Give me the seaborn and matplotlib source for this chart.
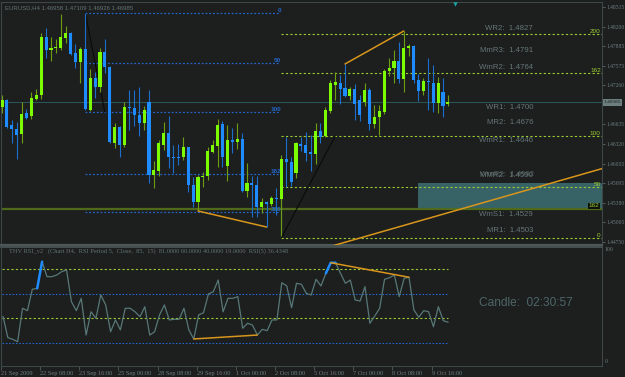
import numpy as np
import pandas as pd
import matplotlib
matplotlib.use("Agg")
import matplotlib.pyplot as plt
import matplotlib.transforms as mtransforms
from matplotlib.patches import Rectangle
import seaborn as sns

# ---------------- data ----------------
opens = [1.46913, 1.47025, 1.46625, 1.46561, 1.46480, 1.46817, 1.46769, 1.47041, 1.47105, 1.48034,
         1.47826, 1.47858, 1.47858, 1.48018, 1.48098, 1.47778, 1.47634, 1.47842, 1.46865, 1.47377,
         1.47233, 1.47794, 1.47554, 1.46336, 1.46593, 1.46304, 1.46913, 1.46897, 1.46785, 1.46657,
         1.46993, 1.45824, 1.45888, 1.46304, 1.46496, 1.46112, 1.46112, 1.46112, 1.46272, 1.45663,
         1.45391, 1.45792, 1.45808, 1.46192, 1.46288, 1.46641, 1.45968, 1.46384, 1.46352, 1.46400,
         1.45567, 1.45695, 1.45663, 1.45311, 1.45391, 1.45359, 1.45455, 1.45439, 1.46080, 1.46032,
         1.45856, 1.46320, 1.46304, 1.46192, 1.46160, 1.46529, 1.46448, 1.46849, 1.47265, 1.47297,
         1.47217, 1.47089, 1.47201, 1.47025, 1.46993, 1.47185, 1.46641, 1.46753, 1.46833, 1.47490,
         1.47538, 1.47650, 1.47361, 1.47858, 1.47890, 1.47345, 1.47169, 1.47329, 1.47297, 1.46977,
         1.47153, 1.46958]
highs = [1.47105, 1.47041, 1.46705, 1.46673, 1.46993, 1.46881, 1.47153, 1.47201, 1.48098, 1.48178,
         1.48034, 1.48002, 1.48403, 1.48210, 1.48114, 1.47922, 1.47874, 1.48419, 1.47522, 1.47474,
         1.47858, 1.48002, 1.47570, 1.46657, 1.46609, 1.46993, 1.47185, 1.47185, 1.47233, 1.46929,
         1.47185, 1.46048, 1.46384, 1.46673, 1.46769, 1.46304, 1.46320, 1.46432, 1.46272, 1.45792,
         1.45824, 1.45872, 1.46272, 1.46384, 1.46721, 1.46689, 1.46625, 1.46577, 1.46657, 1.46496,
         1.46016, 1.45808, 1.45808, 1.45455, 1.45407, 1.45487, 1.45615, 1.46144, 1.46432, 1.46112,
         1.46352, 1.46432, 1.46513, 1.46464, 1.46657, 1.46657, 1.46913, 1.47345, 1.47474, 1.47426,
         1.47602, 1.47233, 1.47281, 1.47105, 1.47297, 1.47217, 1.46945, 1.46945, 1.47522, 1.47698,
         1.47826, 1.47954, 1.48130, 1.47922, 1.47906, 1.47442, 1.47377, 1.47698, 1.47586, 1.47393,
         1.47377, 1.47109]
lows = [1.46817, 1.46577, 1.46336, 1.46080, 1.46336, 1.46721, 1.46721, 1.47025, 1.47041, 1.47698,
        1.47650, 1.47778, 1.47826, 1.47938, 1.47746, 1.47538, 1.47297, 1.46865, 1.46849, 1.47057,
        1.47153, 1.47458, 1.46336, 1.46256, 1.46112, 1.46272, 1.46545, 1.46609, 1.46448, 1.46545,
        1.45695, 1.45615, 1.45808, 1.46224, 1.45936, 1.45856, 1.45984, 1.46064, 1.45551, 1.45311,
        1.45247, 1.45631, 1.45743, 1.46176, 1.45952, 1.45952, 1.45727, 1.46176, 1.46240, 1.45551,
        1.45471, 1.45151, 1.45151, 1.45215, 1.44990, 1.45327, 1.45183, 1.45423, 1.45631, 1.45647,
        1.45775, 1.46208, 1.46048, 1.45888, 1.46000, 1.46336, 1.46432, 1.46817, 1.47025, 1.46961,
        1.47073, 1.47025, 1.46705, 1.46689, 1.46929, 1.46545, 1.46577, 1.46464, 1.46801, 1.47410,
        1.47297, 1.47297, 1.47153, 1.47730, 1.47297, 1.47009, 1.47105, 1.46865, 1.46833, 1.46817,
        1.46753, 1.46926]
closes = [1.47025, 1.46593, 1.46561, 1.46464, 1.46801, 1.46737, 1.47057, 1.47105, 1.48034, 1.47826,
          1.47858, 1.47874, 1.48034, 1.48098, 1.47762, 1.47634, 1.47842, 1.46881, 1.47377, 1.47233,
          1.47794, 1.47554, 1.46352, 1.46593, 1.46304, 1.46913, 1.46897, 1.46785, 1.46657, 1.46865,
          1.45824, 1.45904, 1.46336, 1.46496, 1.46112, 1.46096, 1.46096, 1.46272, 1.45663, 1.45391,
          1.45792, 1.45808, 1.46208, 1.46304, 1.46625, 1.46112, 1.46384, 1.46352, 1.46400, 1.45567,
          1.45695, 1.45663, 1.45311, 1.45391, 1.45359, 1.45455, 1.45439, 1.46080, 1.46032, 1.45711,
          1.46336, 1.46288, 1.46176, 1.46160, 1.46529, 1.46432, 1.46865, 1.47297, 1.47313, 1.47201,
          1.47089, 1.47201, 1.46961, 1.46785, 1.47185, 1.46641, 1.46753, 1.46849, 1.47490, 1.47538,
          1.47650, 1.47361, 1.47858, 1.47890, 1.47345, 1.47169, 1.47329, 1.47313, 1.46977, 1.47297,
          1.46929, 1.46985]
rsi = [41.5, 23.5, 22.1, 20.1, 48.2, 46.2, 64.2, 65.0, 87.4, 74.8,
       74.8, 76.2, 79.0, 80.4, 53.7, 46.2, 56.6, 25.7, 45.3, 39.8,
       59.4, 51.0, 28.5, 38.4, 30.0, 48.2, 48.2, 45.3, 41.1, 49.5,
       25.7, 28.5, 42.6, 51.0, 38.4, 38.9, 38.9, 48.2, 30.0, 22.4,
       42.6, 44.5, 60.2, 62.2, 72.0, 45.3, 56.6, 56.6, 58.0, 31.4,
       35.6, 34.1, 25.7, 30.5, 29.4, 38.4, 38.4, 69.7, 67.0, 48.7,
       69.2, 68.4, 60.8, 59.4, 72.6, 67.0, 77.6, 86.5, 86.5, 77.6,
       69.2, 72.0, 55.2, 54.3, 66.4, 35.6, 41.7, 48.2, 72.6, 73.9,
       76.2, 58.0, 73.4, 74.3, 46.8, 40.6, 46.2, 45.3, 32.7, 49.5,
       37.8, 36.43]

time_labels = ["21 Sep 2009", "22 Sep 08:00", "23 Sep 16:00", "25 Sep 00:00", "28 Sep 08:00",
               "29 Sep 16:00", "1 Oct 00:00", "2 Oct 08:00", "5 Oct 16:00", "7 Oct 00:00",
               "8 Oct 08:00", "9 Oct 16:00"]
price_ticks = [1.48515, 1.48200, 1.47885, 1.47575, 1.47260, 1.46635, 1.46320,
               1.46005, 1.45695, 1.45380, 1.45065, 1.44750]

pivot_names = ["WR2", "MmR3", "WmR2", "WR1", "MR2", "WmR1", "MMR2", "WmS1", "MR1"]
pivot_values = [1.4827, 1.4791, 1.4764, 1.4700, 1.4676, 1.4646, 1.4590, 1.4529, 1.4503]

fib_levels = [0, 50, 100, 161.8, 200]
fib_labels = ["0", "50", "100", "162", "200"]
blue_fib = [(17, 1.48419), (21, 1.46828)]     # (bar, price) of 0 and 100
green_fib = [(57, 1.44814), (68, 1.46448)]
olive_level = 1.45279
zone_top = 1.45689
zone_start_bar = 84.9

orange_price_1 = [(40, 1.45247), (54, 1.44990)]
orange_price_2 = [(70, 1.47602), (82, 1.48130)]
orange_price_3 = [(67, 1.44678), (122.5, 1.45927)]
orange_rsi_1 = [(39, 22.4), (52, 25.7)]
orange_rsi_2 = [(67, 86.5), (83, 74.3)]
rsi_levels = [81, 60, 40, 19]
highlight_sets = [[7, 8], [66, 67, 68]]

# ---------------- style ----------------
BG = '#1d1e1e'
UP_BODY = '#7cfc00'
UP_WICK = '#6d9e12'
DN_BODY = '#1e8cff'
DN_WICK = '#1b70cc'
FRAME = '#3c4848'
TXT = '#627374'
ORANGE = '#d8961c'
YG = '#9acd32'
FIBBLUE = '#2366c8'
SERIF = ['Liberation Serif', 'DejaVu Serif']

sns.set_theme(style="dark", rc={"axes.facecolor": BG, "figure.facecolor": BG,
                                "axes.edgecolor": FRAME, "grid.color": BG})
plt.rcParams['font.family'] = ['Liberation Sans', 'DejaVu Sans']

W, H = 625, 377
fig = plt.figure(figsize=(W / 100, H / 100), dpi=100, facecolor=BG)
ax = fig.add_axes([1 / W, 1 - 245 / H, 601 / W, 243 / H])
ax2 = fig.add_axes([1 / W, 1 - 365.6 / H, 601 / W, (365.6 - 246.7) / H])
XL = (-0.204, 122.45)

idx = np.arange(len(closes))
o = np.array(opens); h = np.array(highs); l = np.array(lows); c = np.array(closes)
up = c >= o

# ---------------- main panel ----------------
ax.set_facecolor(BG)
ax.set_xlim(*XL)
ax.set_ylim(1.44702, 1.48595)

# zone + olive line
ax.add_patch(Rectangle((zone_start_bar, olive_level), XL[1] - zone_start_bar, zone_top - olive_level,
                       facecolor='#386366', edgecolor='none', zorder=1))
ax.axhline(olive_level, color='#4f6a1a', lw=1.6, zorder=2)
# bid line
ax.axhline(closes[-1], color='#2d5454', lw=0.8, zorder=1.5)

# blue fib
b0, b100 = blue_fib[0][1], blue_fib[1][1]
for lv, lb in zip(fib_levels, fib_labels):
    p = b0 - lv / 100 * (b0 - b100)
    ax.hlines(p, blue_fib[0][0], 56.7, colors=FIBBLUE, lw=0.9, linestyles=(0, (1.5, 1.5)), zorder=2)
    ax.text(56.9, p, lb, color=FIBBLUE, fontsize=4.6, ha='right', va='bottom', fontweight='bold', zorder=3)
ax.plot([blue_fib[0][0], blue_fib[1][0]], [b0, b100], color='#0a0a0a', lw=0.8, zorder=2)

# green fib
g0, g100 = green_fib[0][1], green_fib[1][1]
for lv, lb in zip(fib_levels, fib_labels):
    p = g0 + lv / 100 * (g100 - g0)
    ax.hlines(p, green_fib[0][0], XL[1], colors=YG, lw=0.8, linestyles=(0, (2, 2)), zorder=2)
    ax.text(122.2, p, lb, color=YG, fontsize=4.6, ha='right', va='bottom', zorder=3)
ax.vlines(green_fib[0][0], g0, opens[57], colors='#6a9a1a', lw=0.9, zorder=2)
ax.plot([green_fib[0][0], green_fib[1][0]], [g0, g100], color='#0a0a0a', lw=0.8, zorder=2)
ax.text(121.9, olive_level + 0.00012, "162", color=YG, fontsize=4.6, ha='right', va='bottom', zorder=4,
        bbox=dict(boxstyle='square,pad=0.1', fc='#0e120a', ec='none'))

# candles
ax.vlines(idx, l, h, colors=[UP_WICK if u else DN_WICK for u in up], lw=0.8, zorder=4)
bottoms = np.minimum(o, c)
heights = np.maximum(np.abs(c - o), 0.00012)
ax.bar(idx, heights, bottom=bottoms, width=0.62,
       color=[UP_BODY if u else DN_BODY for u in up], linewidth=0, zorder=5)

# orange trendlines
for seg in (orange_price_1, orange_price_2, orange_price_3):
    sns.lineplot(x=[seg[0][0], seg[1][0]], y=[seg[0][1], seg[1][1]], ax=ax, color=ORANGE,
                 lw=1.1, zorder=6, estimator=None, sort=False)

# pivot labels
for n, v in zip(pivot_names, pivot_values):
    ax.annotate(f"{n}:  {v:.4f}", (108.4, v), xytext=(0, -1.6), textcoords='offset points',
                color='#667677', fontsize=5.6, ha='right', va='top', zorder=3)
ax.annotate("WmR2:  1.4592", (108.6, 1.4592), xytext=(0, -1.6), textcoords='offset points',
            color='#667677', fontsize=5.6, ha='right', va='top', zorder=3, alpha=0.7)

# header
ax.text(0.007, 0.985, "EURUSD,H4 1.46958 1.47109 1.46926 1.46985", transform=ax.transAxes,
        color=TXT, fontsize=4.3, ha='left', va='top')
ax.scatter([0.756], [0.992], marker='v', s=10, color='#18a5a5', transform=ax.transAxes,
           clip_on=False, zorder=8, linewidths=0)

# right axis
ax.yaxis.tick_right()
ax.set_yticks(price_ticks)
ax.set_yticklabels([f"{t:.5f}" for t in price_ticks])
ax.tick_params(axis='y', colors='#5a6a6a', labelcolor='#6f7f80', labelsize=4.0, length=2,
               width=0.6, pad=1.0, right=True, left=False)
for lab in ax.get_yticklabels():
    lab.set_family(SERIF)
ax.set_xticks([])
ax.grid(False)
trans = mtransforms.blended_transform_factory(ax.transAxes, ax.transData)
ax.text(1.003, closes[-1], f"{closes[-1]:.5f}", transform=trans, ha='left', va='center',
        fontsize=3.9, color='#1d1e1e', family=SERIF,
        bbox=dict(boxstyle='square,pad=0.2', fc='#6d7e7e', ec='none'), clip_on=False)
for s in ax.spines.values():
    s.set_color(FRAME); s.set_linewidth(0.8)
ax.spines['bottom'].set_color('#4b5757'); ax.spines['bottom'].set_linewidth(1.6)

# ---------------- RSI panel ----------------
ax2.set_facecolor(BG)
ax2.set_xlim(*XL)
ax2.set_ylim(0, 100)
for lv, col in zip(rsi_levels, [YG, FIBBLUE, YG, FIBBLUE]):
    ax2.hlines(lv, XL[0], idx[-1], colors=col, lw=0.8,
               linestyles=(0, (2, 2)) if col == YG else (0, (1.5, 1.5)), zorder=1)
df = pd.DataFrame({"bar": idx, "rsi": rsi})
sns.lineplot(data=df, x="bar", y="rsi", ax=ax2, color='#587878', lw=0.9, zorder=3)
for hs in highlight_sets:
    ax2.plot(hs, [rsi[i] for i in hs], color='#1e8cff', lw=1.8, zorder=4, solid_capstyle='round')
for seg in (orange_rsi_1, orange_rsi_2):
    ax2.plot([seg[0][0], seg[1][0]], [seg[0][1], seg[1][1]], color=ORANGE, lw=1.1, zorder=5)

ax2.text(0.014, 0.985, "THV RSI_v2   (Chart H4,  RSI Period 5,  Close,  85,  15)  81.0000 60.0000 "
         "40.0000 19.0000  RSI(5) 36.4348", transform=ax2.transAxes, color=TXT, fontsize=4.6,
         ha='left', va='top', family=SERIF)
ax2.text(97.3, 53, "Candle:  02:30:57", color='#4e6667', fontsize=8.6, ha='left', va='center')
rtrans = mtransforms.blended_transform_factory(ax2.transAxes, ax2.transData)
ax2.text(1.004, 97.5, "100", transform=rtrans, color='#6f7f80', fontsize=4.2, ha='left',
         va='center', family=SERIF)
ax2.text(1.004, 3.5, "0", transform=rtrans, color='#6f7f80', fontsize=4.2, ha='left',
         va='center', family=SERIF)

ax2.set_yticks([])
ax2.set_xticks([8 * k - 0.4 for k in range(len(time_labels))])
ax2.set_xticklabels(time_labels)
ax2.tick_params(axis='x', colors='#4f5d5d', labelcolor='#6f7f80', labelsize=4.6, length=3,
                width=0.6, pad=1.0, bottom=True, direction='out')
for lab in ax2.get_xticklabels():
    lab.set_ha('left')
    lab.set_family(SERIF)
ax2.set_xlabel(""); ax2.set_ylabel("")
ax2.grid(False)
for s in ax2.spines.values():
    s.set_color(FRAME); s.set_linewidth(0.8)
ax2.spines['top'].set_color('#4b5757'); ax2.spines['top'].set_linewidth(1.2)

fig.savefig("out.png", dpi=100, facecolor=BG)
